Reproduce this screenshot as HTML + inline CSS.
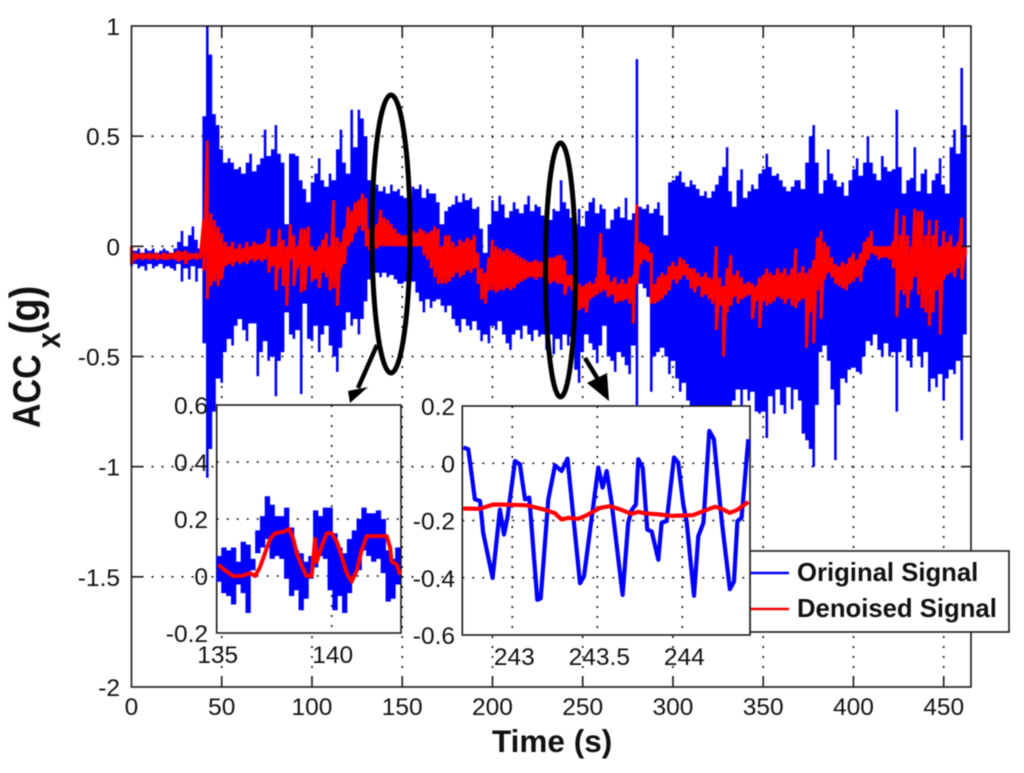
<!DOCTYPE html>
<html>
<head>
<meta charset="utf-8">
<title>ACCx original and denoised signal</title>
<style>
html,body{margin:0;padding:0;background:#fff;}
svg{display:block;filter:blur(0.45px);font-family:"Liberation Sans",sans-serif;}
</style>
</head>
<body>
<svg id="chart" xmlns="http://www.w3.org/2000/svg" width="1024" height="773" viewBox="0 0 1024 773"></svg>
<script>
// ---------- main chart data ----------
const sampleSeconds = 2;
const xTicks = [0, 50, 100, 150, 200, 250, 300, 350, 400, 450];
const yTicks = [1, 0.5, 0, -0.5, -1, -1.5, -2];
const yTickLabels = ['1', '0.5', '0', '-0.5', '-1', '-1.5', '-2'];
const originalUpper = [
-.00,-.02,-.01,-.03,-.01,-.02,-.01,-.03,-.02,-.01,
-.02,-.03,-.01,.02,.07,.00,.05,.09,.03,-.01,
.59,1.0,.87,.60,.55,.44,.38,.40,.38,.35,
.36,.33,.38,.42,.34,.37,.40,.53,.41,.44,
.55,.42,.38,.10,.42,.42,.41,.30,.26,.20,
.29,.33,.40,.30,.27,.33,.30,.44,.53,.38,
.33,.62,.45,.62,.58,.50,.30,.26,.28,.25,
.27,.24,.28,.25,.26,.23,.22,.21,.27,.26,
.28,.22,.26,.24,.24,.20,.10,.16,.18,.19,
.23,.20,.24,.21,.22,.17,.18,.08,-.03,.10,
.21,.16,.23,.19,.13,.16,.20,.17,.15,.19,
.23,.16,.19,.18,.14,.13,.12,.17,.16,.30,
.20,.17,.13,.10,.17,.09,.16,.20,.22,.15,
.19,.17,.08,.12,.17,.18,.13,.22,.12,.15,
.85,.18,.17,.19,.15,.17,.20,.14,.05,.29,
.30,.32,.34,.29,.27,.30,.28,.26,.23,.25,
.22,.25,.28,.32,.36,.45,.25,.18,.30,.35,
.22,.25,.28,.26,.33,.35,.42,.36,.32,.33,
.30,.27,.25,.27,.30,.30,.26,.38,.50,.55,
.38,.24,.30,.44,.33,.30,.27,.29,.23,.30,
.35,.40,.32,.38,.50,.38,.33,.30,.41,.36,
.34,.35,.62,.36,.24,.30,.31,.45,.25,.33,
.35,.24,.30,.33,.40,.28,.24,.45,.53,.42,
.81,.55];
const originalLower = [
-.09,-.08,-.10,-.09,-.11,-.08,-.10,-.09,-.08,-.10,
-.09,-.10,-.11,-.08,-.16,-.10,-.15,-.09,-.16,-.10,
-.44,-1.05,-.92,-.75,-.60,-.62,-.48,-.42,-.45,-.36,
-.33,-.38,-.43,-.35,-.35,-.59,-.48,-.43,-.52,-.50,
-.68,-.52,-.48,-.30,-.40,-.42,-.38,-.67,-.26,-.42,
-.43,-.36,-.48,-.40,-.36,-.45,-.50,-.57,-.46,-.38,
-.30,-.36,-.33,-.40,-.33,-.25,-.15,-.13,-.12,-.14,
-.12,-.14,-.13,-.15,-.17,-.17,-.16,-.18,-.16,-.21,
-.25,-.30,-.24,-.28,-.25,-.24,-.27,-.30,-.27,-.33,
-.36,-.39,-.33,-.36,-.38,-.34,-.38,-.43,-.40,-.44,
-.36,-.38,-.34,-.40,-.44,-.47,-.40,-.38,-.42,-.36,
-.40,-.43,-.38,-.41,-.40,-.47,-.40,-.49,-.42,-.47,
-.40,-.45,-.41,-.56,-.62,-.48,-.40,-.44,-.47,-.53,
-.45,-.36,-.50,-.52,-.57,-.48,-.50,-.54,-.58,-.45,
-.72,-.17,-.19,-.23,-.66,-.50,-.48,-.46,-.50,-.58,
-.52,-.60,-.66,-.62,-.70,-.78,-.85,-.88,-.85,-.90,
-.95,-.88,-.90,-.92,-.85,-.88,-.82,-.70,-.65,-.72,
-.65,-.70,-.66,-.75,-.76,-.75,-.87,-.68,-.76,-.65,
-.72,-.76,-.64,-.74,-.65,-.70,-.85,-.88,-.92,-1.0,
-.72,-.48,-.45,-.52,-.65,-.97,-.72,-.60,-.62,-.56,
-.55,-.57,-.58,-.50,-.43,-.45,-.40,-.47,-.50,-.44,
-.50,-.48,-.75,-.48,-.42,-.52,-.55,-.42,-.50,-.55,
-.48,-.66,-.60,-.64,-.58,-.70,-.60,-.56,-.58,-.52,
-.88,-.40];
const denoisedUpper = [
.00,-.03,-.035,-.03,-.035,-.03,-.035,-.03,-.04,-.03,
-.035,-.03,-.03,-.02,-.025,-.02,-.03,-.035,-.03,-.035,
.12,.48,.15,.12,.09,.06,.02,.00,.02,-.01,
.01,-.01,.02,.00,.02,.01,.01,.02,.08,.00,
.00,.08,.03,.00,.10,.05,.00,.08,.08,.09,
.00,-.02,.00,.03,.06,.00,.21,.04,.02,.08,
.18,.16,.20,.21,.24,.22,.08,.05,.10,.165,
.13,.12,.10,.08,.06,.05,.05,.05,.07,.06,
.08,.07,.06,.07,.09,.08,.00,.05,.05,.02,
.00,.03,.02,.04,.03,.05,-.03,-.10,-.12,-.05,
.03,.00,-.01,-.02,-.01,-.02,-.03,-.04,-.05,-.06,
-.07,-.07,-.06,-.07,-.07,-.06,-.05,-.05,-.04,-.04,
-.06,-.13,-.13,-.15,-.17,-.18,-.17,-.16,-.17,-.14,
.06,-.05,-.13,-.16,-.14,-.17,-.15,-.17,-.14,-.13,
.19,.02,.01,.00,-.03,-.17,-.14,-.12,-.13,-.09,
-.07,-.09,-.05,-.06,-.08,-.10,-.10,-.12,-.14,-.12,
-.14,-.15,.00,-.14,-.18,-.10,-.04,-.13,-.11,-.14,
-.17,-.16,-.17,-.18,-.14,-.13,-.10,-.12,-.13,-.10,
-.12,-.10,-.13,-.10,-.01,-.12,-.09,-.12,-.10,-.06,
.04,.07,.02,.00,-.05,-.08,-.09,-.07,-.08,-.05,
-.03,-.06,-.03,.02,.04,.07,.00,.00,.00,.00,
.00,.02,.17,.05,.14,.05,.00,.17,.16,.16,
.05,.12,.05,.12,.00,.07,.02,.05,.00,.02,
.13,.00];
const denoisedLower = [
-.08,-.06,-.055,-.06,-.055,-.06,-.055,-.06,-.055,-.06,
-.06,-.055,-.06,-.07,-.06,-.08,-.06,-.055,-.06,-.055,
-.11,-.24,-.18,-.16,-.18,-.15,-.09,-.08,-.09,-.07,
-.08,-.07,-.08,-.06,-.07,-.06,-.07,-.06,-.12,-.09,
-.20,-.10,-.18,-.27,-.06,-.18,-.10,-.21,-.20,-.09,
-.16,-.15,-.19,-.12,-.14,-.20,-.19,-.27,-.10,-.08,
.00,.02,.06,.09,.07,.00,-.02,-.01,-.01,.00,
.00,.00,.00,.00,.00,.00,.00,.00,.00,.00,
.00,-.04,-.06,-.10,-.14,-.17,-.17,-.17,-.16,-.14,
-.12,-.14,-.13,-.11,-.12,-.10,-.17,-.24,-.26,-.20,
-.20,-.21,-.20,-.20,-.19,-.20,-.19,-.17,-.16,-.15,
-.14,-.14,-.15,-.14,-.14,-.16,-.17,-.16,-.17,-.17,
-.22,-.18,-.20,-.25,-.29,-.28,-.30,-.24,-.23,-.22,
-.21,-.20,-.23,-.22,-.26,-.25,-.25,-.24,-.26,-.35,
-.17,-.08,-.06,-.07,-.26,-.26,-.25,-.24,-.22,-.20,
-.15,-.17,-.15,-.13,-.15,-.19,-.21,-.18,-.23,-.22,
-.24,-.26,-.38,-.27,-.50,-.30,-.27,-.23,-.26,-.24,
-.23,-.22,-.33,-.25,-.37,-.25,-.27,-.26,-.25,-.23,
-.24,-.26,-.24,-.27,-.28,-.25,-.24,-.46,-.30,-.44,
-.20,-.33,-.15,-.12,-.14,-.17,-.18,-.19,-.20,-.17,
-.16,-.14,-.16,-.09,-.06,-.03,-.04,-.06,-.05,-.05,
-.06,-.10,-.32,-.20,-.22,-.28,-.20,-.14,-.22,-.28,
-.30,-.36,-.30,-.20,-.40,-.15,-.13,-.12,-.14,-.10,
-.15,-.04];

// ---------- left inset data ----------
const insetASampleStart = 135;
const insetASampleStep = 0.21;
const insetAXTicks = [135, 140];
const insetAYTicks = [0.6, 0.4, 0.2, 0, -0.2];
const insetAYLabels = ['0.6', '0.4', '0.2', '0', '-0.2'];
const insetAOriginalUpper = [.07,.10,.09,.10,.05,.12,.11,.06,.16,.21,.28,.25,.21,.21,.24,.17,.09,.08,.05,.07,.23,.21,.24,.24,.15,.10,.08,.13,.16,.20,.24,.22,.22,.23,.20,.09,.06,.10];
const insetAOriginalLower = [-.02,-.06,-.07,-.10,-.03,-.06,-.13,.02,.08,.10,.13,.06,.07,.06,-.01,-.07,-.05,-.12,-.08,-.01,.03,.07,.06,-.05,-.12,-.07,-.13,-.06,.00,.02,.09,.07,.05,.06,.01,-.09,-.08,-.03];
const insetADenoisedTimes = [135.07,135.36,135.72,136.09,136.45,136.67,136.88,137.1,137.32,137.54,137.9,138.16,138.33,138.48,138.7,138.91,139.13,139.28,139.35,139.57,139.78,140,140.22,140.43,140.65,140.87,141.09,141.3,141.52,141.96,142.39,142.54,142.61,142.83,142.97];
const insetADenoisedValues = [.04,.02,0,0,.01,0,.03,.08,.13,.15,.155,.165,.13,.08,.035,0,0,.13,.05,.105,.15,.15,.12,.07,.01,-.02,.02,.09,.14,.14,.14,.10,.05,.04,.005];

// ---------- right inset data ----------
const insetBXTicks = [243, 243.5, 244];
const insetBXLabels = ['243', '243.5', '244'];
const insetBYTicks = [0.2, 0, -0.2, -0.4, -0.6];
const insetBYLabels = ['0.2', '0', '-0.2', '-0.4', '-0.6'];
const insetBOriginalTimes = [242.712,242.741,242.78,242.81,242.829,242.884,242.927,242.951,242.971,243.016,243.045,243.075,243.1,243.147,243.167,243.212,243.251,243.29,243.325,243.398,243.422,243.506,243.531,243.555,243.584,243.649,243.682,243.702,243.727,243.741,243.767,243.794,243.82,243.859,243.878,243.908,243.951,243.976,244.006,244.025,244.069,244.094,244.124,244.159,244.186,244.231,244.28,244.304,244.324,244.349,244.388];
const insetBOriginalValues = [.055,.049,-.126,-.132,-.243,-.401,-.162,-.249,-.191,.008,-.004,-.126,-.12,-.477,-.472,-.126,-.007,-.027,.016,-.419,-.395,-.015,-.085,-.027,-.138,-.46,-.208,-.164,-.144,.014,-.015,-.232,-.238,-.337,-.208,-.202,.02,.002,-.144,-.202,-.463,-.255,-.208,.113,.084,-.197,-.44,-.413,-.202,-.19,.084];
const insetBDenoisedTimes = [242.712,242.81,242.888,243.006,243.084,243.182,243.251,243.29,243.329,243.388,243.437,243.516,243.575,243.633,243.702,243.741,243.78,243.869,243.937,244.065,244.124,244.192,244.231,244.28,244.32,244.388];
const insetBDenoisedValues = [-.158,-.159,-.144,-.145,-.147,-.161,-.175,-.196,-.191,-.194,-.182,-.156,-.15,-.161,-.177,-.17,-.175,-.179,-.184,-.181,-.167,-.152,-.159,-.173,-.164,-.135];

const BLUE = '#0000ff', RED = '#ff0000', INK = '#1a1a1a';
const svg = document.getElementById('chart');
const NS = 'http://www.w3.org/2000/svg';

function make(tag, attrs, parent) {
  const el = document.createElementNS(NS, tag);
  for (const k in attrs) el.setAttribute(k, attrs[k]);
  (parent || svg).appendChild(el);
  return el;
}
function linear(d0, d1, r0, r1) {
  return v => r0 + (v - d0) * (r1 - r0) / (d1 - d0);
}
const gridStyle = {stroke:'#111', 'stroke-width':1.6, 'stroke-dasharray':'2 8', fill:'none'};
function line(x1, y1, x2, y2, style, parent) {
  return make('line', Object.assign({x1, y1, x2, y2}, style), parent);
}
function label(text, x, y, anchor, size, parent) {
  const el = make('text', {x, y, 'text-anchor':anchor, 'font-size':size, fill:'#111'}, parent);
  el.textContent = text;
  return el;
}

// main scales
const mainX = linear(0, 450, 131.5, 943.7);
const mainY = linear(1, -2, 26, 687);

const mainGrid = make('g', {});


xTicks.slice(1).forEach(t => line(mainX(t), 26, mainX(t), 687, gridStyle, mainGrid));
yTicks.slice(1, -1).forEach(v => line(131.5, mainY(v), 971, mainY(v), gridStyle, mainGrid));

// original signal: narrow vertical stroke per sample, plus a stroke between
// neighbouring samples spanning their shared range so the body stays solid
let blueD = '';
originalUpper.forEach((u, i) => {
  const t = i * sampleSeconds;
  const x = mainX(t).toFixed(1);
  blueD += 'M' + x + ' ' + mainY(originalLower[i]).toFixed(1) + 'L' + x + ' ' + mainY(u).toFixed(1);
  if (i < originalUpper.length - 1) {
    const mx = mainX(t + sampleSeconds / 2).toFixed(1);
    const top = Math.min(u, originalUpper[i + 1]);
    const bottom = Math.max(originalLower[i], originalLower[i + 1]);
    blueD += 'M' + mx + ' ' + mainY(bottom).toFixed(1) + 'L' + mx + ' ' + mainY(top).toFixed(1);
  }
});
const bluePath = make('path', {d:blueD, stroke:BLUE, 'stroke-width':2.6, fill:'none'});



// denoised signal: zigzag through sample extremes
let redD = '';
denoisedUpper.forEach((u, i) => {
  const x = mainX(i * sampleSeconds).toFixed(1);
  redD += (i ? 'L' : 'M') + x + ' ' + mainY(u).toFixed(1) + 'L' + x + ' ' + mainY(denoisedLower[i]).toFixed(1);
});
const redPath = make('path', {d:redD, stroke:RED, 'stroke-width':3, fill:'none', 'stroke-linejoin':'bevel'});



// main frame + ticks
const frameStyle = {stroke:INK, 'stroke-width':1.6, fill:'none'};
const frame = make('rect', Object.assign({x:131.5, y:26, width:839.5, height:661}, frameStyle));


const mainTicks = make('g', {});


xTicks.slice(1).forEach(t => {
  line(mainX(t), 687, mainX(t), 677, frameStyle, mainTicks);
  line(mainX(t), 26, mainX(t), 36, frameStyle, mainTicks);
});
yTicks.slice(1, -1).forEach(v => {
  line(131.5, mainY(v), 141.5, mainY(v), frameStyle, mainTicks);
  line(971, mainY(v), 961, mainY(v), frameStyle, mainTicks);
});

const xLabels = make('g', {});


xTicks.forEach(t => label(String(t), mainX(t), 715, 'middle', 24.5, xLabels));
const yLabels = make('g', {});


yTicks.forEach((v, i) => label(yTickLabels[i], 120, mainY(v) + 9, 'end', 24.5, yLabels));

// x axis title
const xTitle = make('text', {x:492, y:752, 'font-size':31.5, 'font-weight':'bold', fill:'#111'});
xTitle.textContent = 'Time (s)';



// y axis title
const yTitle = make('text', {transform:'translate(40,428) rotate(-90) scale(1,1.15)', 'font-size':34, 'font-weight':'bold', fill:'#111'});


const yTitleMain = make('tspan', {}, yTitle);
yTitleMain.textContent = 'ACC';
const yTitleSub = make('tspan', {dx:6, dy:17.4, 'font-size':29}, yTitle);
yTitleSub.textContent = 'x';
const yTitleUnit = make('tspan', {dx:-2, dy:-17.4, 'font-size':38}, yTitle);
yTitleUnit.textContent = '(g)';

// callout ellipses and arrows
const ellipseA = make('ellipse', {cx:391, cy:234, rx:19, ry:139, fill:'none', stroke:'#000', 'stroke-width':5});


const ellipseB = make('ellipse', {cx:560.5, cy:270, rx:15, ry:127, fill:'none', stroke:'#000', 'stroke-width':5});


const arrowA = make('g', {});


make('line', {x1:377, y1:345, x2:358, y2:388, stroke:'#000', 'stroke-width':4.5}, arrowA);
make('polygon', {points:'350,403 348,391 368,387', fill:'#000'}, arrowA);
const arrowB = make('g', {});


make('line', {x1:585, y1:358, x2:599, y2:381, stroke:'#000', 'stroke-width':4.5}, arrowB);
make('polygon', {points:'609,401 587,383 607,373', fill:'#000'}, arrowB);

// legend
const legend = make('g', {});


make('rect', {x:750, y:551, width:259, height:81, fill:'#fff', stroke:INK, 'stroke-width':1.6}, legend);
const legendOriginal = make('g', {}, legend);


make('line', {x1:750, y1:573, x2:789, y2:573, stroke:BLUE, 'stroke-width':2.6}, legendOriginal);
const legendOriginalText = make('text', {x:797, y:581, 'font-size':25.7, 'font-weight':'bold', fill:'#111'}, legendOriginal);
legendOriginalText.textContent = 'Original Signal';
const legendDenoised = make('g', {}, legend);


make('line', {x1:750, y1:609, x2:789, y2:609, stroke:RED, 'stroke-width':2.6}, legendDenoised);
const legendDenoisedText = make('text', {x:797, y:617, 'font-size':25.7, 'font-weight':'bold', fill:'#111'}, legendDenoised);
legendDenoisedText.textContent = 'Denoised Signal';

// left inset
const insetA = make('g', {});


const ax = linear(135, 140, 216.7, 331.7);
const ay = linear(0.6, -0.2, 405, 633);
make('rect', {x:216.7, y:405, width:184.3, height:228, fill:'#fff', stroke:INK, 'stroke-width':1.6}, insetA);
line(ax(140), 405, ax(140), 633, gridStyle, insetA);
insetAYTicks.slice(1, -1).forEach(v => line(216.7, ay(v), 401, ay(v), gridStyle, insetA));
let aBlue = '';
insetAOriginalUpper.forEach((u, i) => {
  const x = ax(insetASampleStart + (i + 0.5) * insetASampleStep).toFixed(1);
  aBlue += 'M' + x + ' ' + ay(insetAOriginalLower[i]).toFixed(1) + 'L' + x + ' ' + ay(u).toFixed(1);
});
const insetABlue = make('path', {d:aBlue, stroke:BLUE, 'stroke-width':5.3, fill:'none'}, insetA);


const aRedPts = insetADenoisedTimes.map((t, i) => ax(t).toFixed(1) + ',' + ay(insetADenoisedValues[i]).toFixed(1)).join(' ');
const insetARed = make('polyline', {points:aRedPts, stroke:RED, 'stroke-width':4, fill:'none', 'stroke-linejoin':'round'}, insetA);


insetAXTicks.forEach(t => {
  const lab = label(String(t), ax(t) + 1, 663, 'middle', 24.5, insetA);
  
  
});
insetAYTicks.forEach((v, i) => {
  const lab = label(insetAYLabels[i], 208, ay(v) + 9, 'end', 24.5, insetA);
  
  
});

// right inset
const insetB = make('g', {});


const bx = linear(243, 244, 512.3, 682.3);
const by = linear(0.2, -0.6, 406, 635);
make('rect', {x:462.3, y:406, width:287.7, height:229, fill:'#fff', stroke:INK, 'stroke-width':1.6}, insetB);
insetBXTicks.forEach(t => line(bx(t), 406, bx(t), 635, gridStyle, insetB));
insetBYTicks.slice(1, -1).forEach(v => line(462.3, by(v), 750, by(v), gridStyle, insetB));
const bBluePts = insetBOriginalTimes.map((t, i) => bx(t).toFixed(1) + ',' + by(insetBOriginalValues[i]).toFixed(1)).join(' ');
const insetBBlue = make('polyline', {points:bBluePts, stroke:BLUE, 'stroke-width':4.2, fill:'none', 'stroke-linejoin':'round'}, insetB);


const bRedPts = insetBDenoisedTimes.map((t, i) => bx(t).toFixed(1) + ',' + by(insetBDenoisedValues[i]).toFixed(1)).join(' ');
const insetBRed = make('polyline', {points:bRedPts, stroke:RED, 'stroke-width':4.2, fill:'none', 'stroke-linejoin':'round'}, insetB);


insetBXTicks.forEach((t, i) => {
  const lab = label(insetBXLabels[i], bx(t) + 2, 665, 'middle', 24.5, insetB);
  
  
});
insetBYTicks.forEach((v, i) => {
  const lab = label(insetBYLabels[i], 455, by(v) + 9, 'end', 24.5, insetB);
  
  
});
</script>
</body>
</html>
